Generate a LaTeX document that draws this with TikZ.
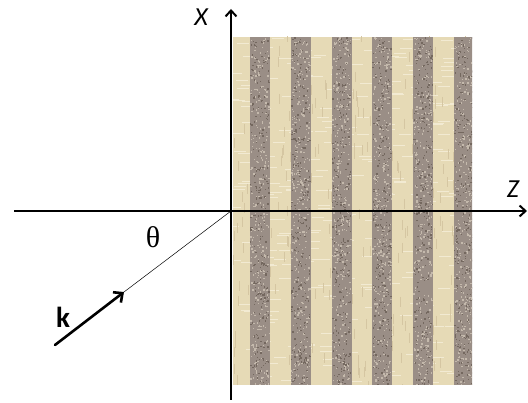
\documentclass[tikz,border=0pt]{standalone}
\usepackage{fontspec}
\setmainfont{Carlito}
\newfontfamily\greekserif{Liberation Serif}
\usetikzlibrary{arrows.meta}
\definecolor{lightstripe}{HTML}{E6DAB6}
\definecolor{darkstripe}{HTML}{9A8E86}
\definecolor{speckhi}{HTML}{C4B9AC}
\definecolor{specklo}{HTML}{74685F}
\definecolor{weavehi}{HTML}{F2EAD2}
\definecolor{weavelo}{HTML}{D5C6A2}
\begin{document}
\begin{tikzpicture}[x=1pt,y=-1pt,
  axis/.style={line width=2pt,-{Straight Barb[length=6pt,width=11pt,line width=2pt]}},
  wavevec/.style={line width=2.6pt,line cap=round,-{Straight Barb[length=7pt,width=13pt,line width=2.6pt]}},
  ray/.style={line width=0.5pt},
  axlabel/.style={font=\fontsize{26}{26}\selectfont\itshape,inner sep=0pt},
  klabel/.style={font=\fontsize{29}{29}\selectfont\bfseries,inner sep=0pt},
  anglabel/.style={font=\fontsize{30}{30}\greekserif,inner sep=0pt}]
\useasboundingbox (0,0) rectangle (528,403);
% striped medium
\begin{scope}
\clip (233,37) rectangle (472,385);
\fill[lightstripe] (233,37) rectangle (472,385);
\pgfmathsetseed{7}
% weave texture in light stripes
\foreach \j in {1,...,320}{
  \pgfmathsetmacro{\yy}{37+348*rnd}
  \pgfmathsetmacro{\xx}{225+247*rnd}
  \draw[weavehi,line width=0.6pt] (\xx,\yy) -- ++(12,0);
}
\foreach \j in {1,...,280}{
  \pgfmathsetmacro{\yy}{30+355*rnd}
  \pgfmathsetmacro{\xx}{233+239*rnd}
  \draw[weavelo,line width=0.6pt] (\xx,\yy) -- ++(0,10);
}
\foreach \i in {0,...,5}
  \fill[darkstripe] ({250+40.8*\i},37) rectangle ({270+40.8*\i},385);
% speckles in dark stripes
\foreach \i in {0,...,5}{
  \foreach \j in {1,...,320}{
    \pgfmathsetmacro{\xx}{250+40.8*\i+18.6*rnd}
    \pgfmathsetmacro{\yy}{37+347*rnd}
    \fill[speckhi] (\xx,\yy) rectangle ++(1.4,1.4);
  }
  \foreach \j in {1,...,260}{
    \pgfmathsetmacro{\xx}{250+40.8*\i+18.6*rnd}
    \pgfmathsetmacro{\yy}{37+347*rnd}
    \fill[specklo] (\xx,\yy) rectangle ++(1.3,1.3);
  }
}
\end{scope}
% axes
\coordinate (O) at (231,211);
\coordinate (xs) at (231,400);
\coordinate (xe) at (231,9);
\coordinate (zs) at (14,211);
\coordinate (ze) at (527,211);
\draw[axis] (xs) -- (xe);
\draw[axis] (zs) -- (ze);
% incident ray and wave vector
\coordinate (ktip) at (124,292);
\coordinate (ktail) at (55,345);
\draw[ray] (O) -- (ktip);
\draw[wavevec] (ktail) -- (ktip);
% labels
\node[axlabel] (xl) at (201,17) {X};
\node[axlabel] (zl) at (513,189) {Z};
\node[anglabel] (th) at (153,237) {θ};
\node[klabel] (kl) at (63,317) {k};
\end{tikzpicture}
\end{document}
